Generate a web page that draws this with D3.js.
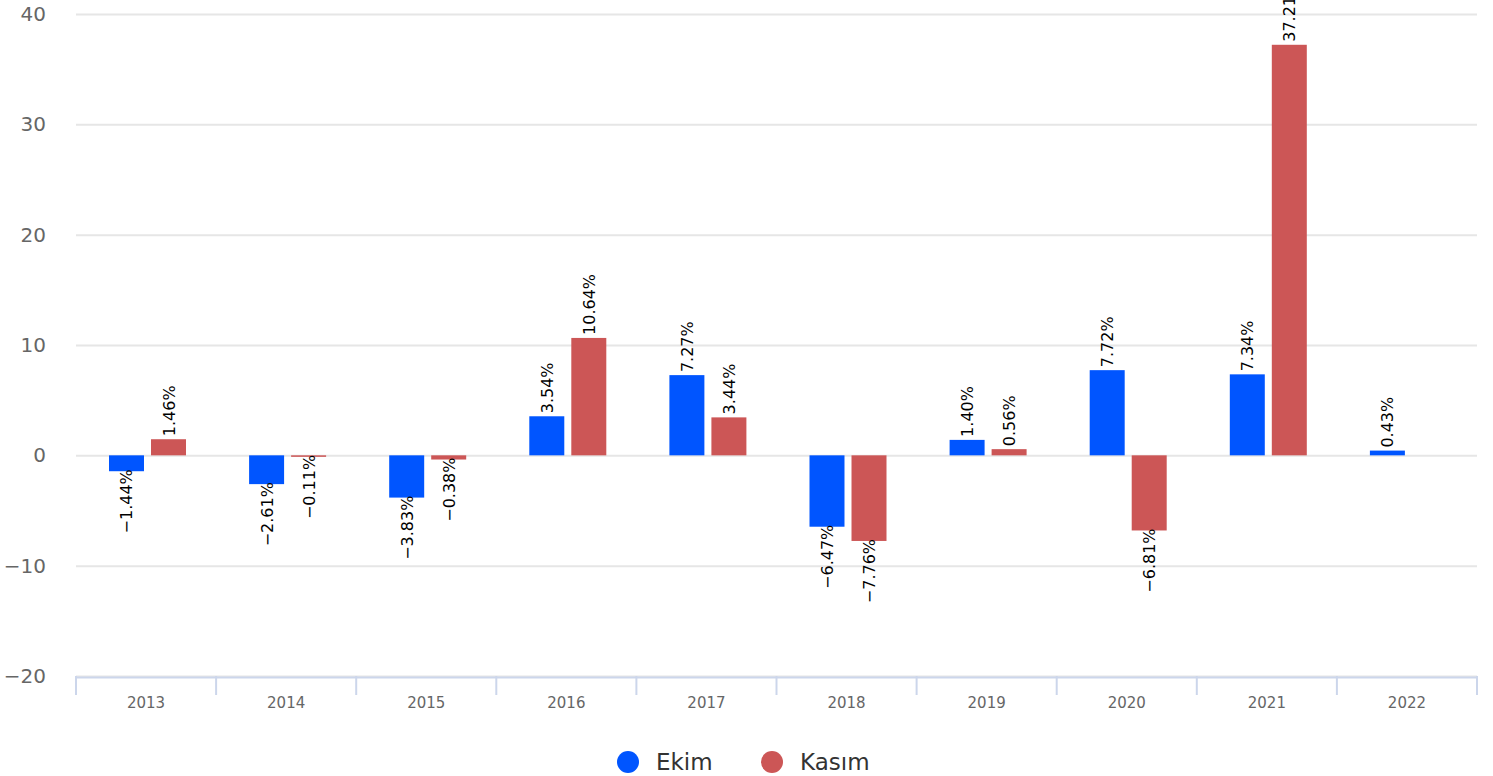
<!DOCTYPE html>
<html lang="tr">
<head>
<meta charset="utf-8">
<title>Ekim / Kasım</title>
<script src="https://cdn.jsdelivr.net/npm/d3@7"></script>
<style>
  body { margin: 0; background: #fff; }
  text { font-family: "DejaVu Sans", sans-serif; }
</style>
</head>
<body>
<script>
// data
var years = ["2013", "2014", "2015", "2016", "2017", "2018", "2019", "2020", "2021", "2022"];
var ekim  = [-1.44, -2.61, -3.83, 3.54, 7.27, -6.47, 1.40, 7.72, 7.34, 0.43];
var kasim = [1.46, -0.11, -0.38, 10.64, 3.44, -7.76, 0.56, -6.81, 37.21, null];
var seriesNames = ["Ekim", "Kasım"];
var seriesColors = ["#0055ff", "#cc5656"];
var yTicks = [-20, -10, 0, 10, 20, 30, 40];

var w = 1493, h = 776;
var plotLeft = 76, plotRight = 1477, plotTop = 14, plotBottom = 676;

var svg = d3.select("body").append("svg")
  .attr("width", w).attr("height", h);

var x = d3.scaleBand().domain(years).range([plotLeft, plotRight]);
var y = d3.scaleLinear().domain([-20, 40]).range([plotBottom, plotTop]);
var inner = d3.scaleBand().domain(seriesNames).range([33, 110]).paddingInner(0.167);

// grid
svg.append("g").selectAll("line").data(yTicks).enter().append("line")
  .attr("x1", plotLeft).attr("x2", plotRight)
  .attr("y1", function(d) { return y(d) + 0.5; })
  .attr("y2", function(d) { return y(d) + 0.5; })
  .attr("stroke", "#e6e6e6").attr("stroke-width", 2);

// y labels
svg.append("g").selectAll("text").data(yTicks).enter().append("text")
  .attr("x", 46).attr("y", function(d) { return y(d) + 7; })
  .attr("text-anchor", "end")
  .attr("font-size", "20px").attr("fill", "#666")
  .text(function(d) { return d < 0 ? "\u2212" + Math.abs(d) : d; });

// x axis
var xa = svg.append("g").attr("transform", "translate(0," + (plotBottom + 1) + ")")
  .call(d3.axisBottom(x).tickSize(0).tickPadding(20));
xa.select(".domain").attr("stroke", "#ccd6eb").attr("stroke-width", 2);
xa.selectAll("text").attr("font-size", "15px").attr("fill", "#666")
  .attr("font-family", "DejaVu Sans, sans-serif");
svg.append("g").selectAll("line").data(years.concat(["end"])).enter().append("line")
  .attr("x1", function(d, i) { return plotLeft + i * x.step(); })
  .attr("x2", function(d, i) { return plotLeft + i * x.step(); })
  .attr("y1", plotBottom).attr("y2", plotBottom + 19)
  .attr("stroke", "#ccd6eb").attr("stroke-width", 2);

// bars
var rows = [];
years.forEach(function(yr, i) {
  [ekim[i], kasim[i]].forEach(function(v, s) {
    if (v !== null) rows.push({ year: yr, s: s, v: v });
  });
});

svg.append("g").selectAll("rect").data(rows).enter().append("rect")
  .attr("x", function(d) { return x(d.year) + inner(seriesNames[d.s]); })
  .attr("width", inner.bandwidth())
  .attr("y", function(d) { return Math.min(y(d.v), y(0)); })
  .attr("height", function(d) { return Math.max(1.5, Math.abs(y(d.v) - y(0))); })
  .attr("fill", function(d) { return seriesColors[d.s]; });

// data labels
svg.append("g").selectAll("text").data(rows).enter().append("text")
  .attr("transform", function(d) {
    var cx = x(d.year) + inner(seriesNames[d.s]) + inner.bandwidth() / 2 + 6;
    var cy = d.v >= 0 ? y(d.v) - 3 : Math.max(y(d.v), y(0) + 1.5) - 2;
    return "translate(" + cx + "," + cy + ") rotate(-90)";
  })
  .attr("text-anchor", function(d) { return d.v >= 0 ? "start" : "end"; })
  .attr("font-size", "16px").attr("fill", "#000")
  .text(function(d) {
    var s = Math.abs(d.v).toFixed(2) + "%";
    return d.v < 0 ? "\u2212" + s : s;
  });

// legend
var lg = svg.append("g").selectAll("g").data(seriesNames).enter().append("g")
  .attr("transform", function(d, i) { return "translate(" + (628 + i * 144) + ",762)"; });
lg.append("circle").attr("r", 11).attr("fill", function(d, i) { return seriesColors[i]; });
lg.append("text").attr("x", 28).attr("y", 8)
  .attr("font-size", "23px").attr("fill", "#333")
  .text(function(d) { return d; });
</script>
</body>
</html>
